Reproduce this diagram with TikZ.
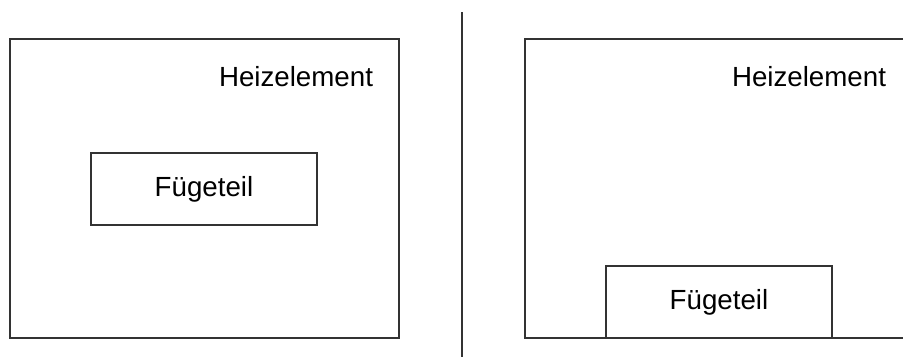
\documentclass[tikz,border=0pt]{standalone}
\usepackage{fontspec}
\setmainfont{Liberation Sans}
\usetikzlibrary{positioning}

\begin{document}
\begin{tikzpicture}[x=1pt, y=-1pt,
    heizbox/.style={rectangle, draw=black!80, line width=1.3pt, minimum width=389pt, minimum height=299pt, inner sep=0pt},
    teilbox/.style={rectangle, draw=black!80, line width=1.3pt, minimum width=226pt, minimum height=72pt, inner sep=0pt, text centered, font=\fontsize{27.7}{33}\selectfont},
    heiztext/.style={anchor=base, inner sep=0pt, font=\fontsize{27.7}{33}\selectfont},
    divider/.style={draw=black!80, line width=1.3pt}
]
    \useasboundingbox (0,0) rectangle (903,357);
    \clip (0,0) rectangle (903,357);

    % Left: part in the middle of the heating element
    \node[heizbox] (heiz_left) at (204.5, 188.5) {};
    \node[heiztext] (heiz_left_text) at (296, 86) {Heizelement};
    \node[teilbox] (teil_left) at (204, 189) {Fügeteil};

    % Divider
    \coordinate (div_top) at (462, 12);
    \coordinate (div_bottom) at (462, 357);
    \draw[divider] (div_top) -- (div_bottom);

    % Right: part resting on the bottom edge
    \node[heizbox] (heiz_right) at (719.5, 188.5) {};
    \node[heiztext] (heiz_right_text) at (809, 86) {Heizelement};
    \node[teilbox, anchor=south] (teil_right) at (heiz_right.south -| 719, 0) {Fügeteil};

\end{tikzpicture}
\end{document}
